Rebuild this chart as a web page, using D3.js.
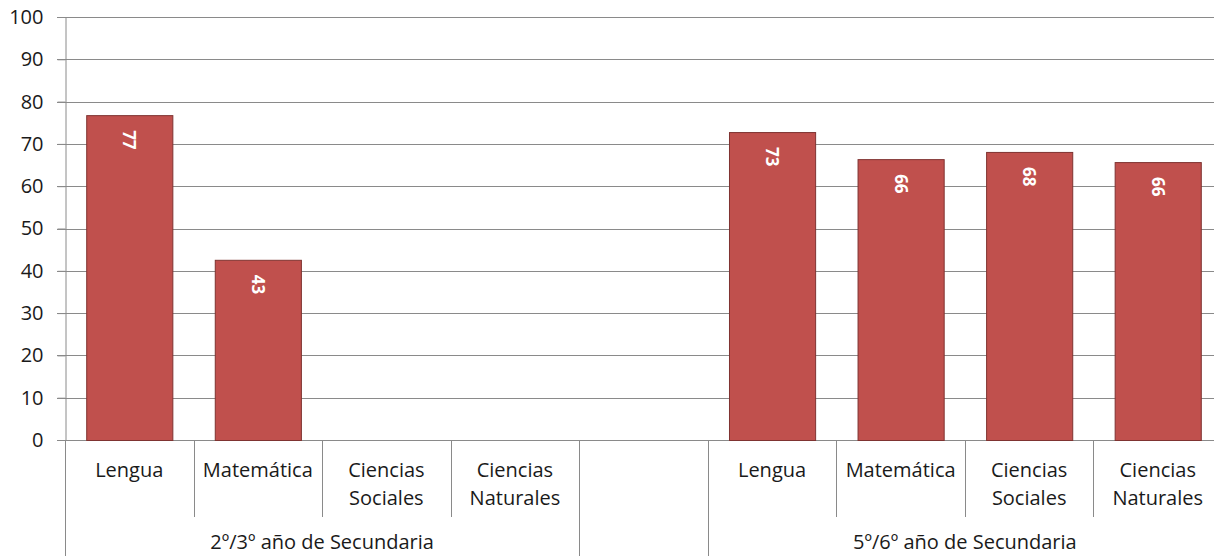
<!DOCTYPE html>
<html><head><meta charset="utf-8">
<script src="https://cdn.jsdelivr.net/npm/d3@7"></script>
<style>body{margin:0;background:#fff;}svg{display:block;font-family:"Open Sans","Noto Sans",sans-serif;}</style>
</head><body><svg id="c" width="1214" height="556"></svg>
<script>
const categoryLabels = ["Lengua","Matemática","Ciencias\nSociales","Ciencias\nNaturales","","Lengua","Matemática","Ciencias\nSociales","Ciencias\nNaturales"];
const groupOf = [0,0,0,0,1,2,2,2,2];
const groupNames = ["2º/3º año de Secundaria","","5º/6º año de Secundaria"];
const values = [76.8, 42.6, null, null, null, 72.8, 66.4, 68.1, 65.7];
const yTicks = [0,10,20,30,40,50,60,70,80,90,100];

(function(){
const svg = d3.select("#c");
const mLeft = 65, mRight = 1222, mTop = 17, mBottom = 440;
const x = d3.scaleBand().domain(d3.range(categoryLabels.length)).range([mLeft, mRight]).padding(0);
const y = d3.scaleLinear().domain([0, 100]).range([mBottom, mTop]);
const gridColor = "#8a8a8a";
const textColor = "#1a1a1a";

// gridlines
svg.append("g").selectAll("line").data(yTicks).join("line")
  .attr("x1", mLeft - 8).attr("x2", mRight)
  .attr("y1", d => Math.round(y(d)) + 0.5).attr("y2", d => Math.round(y(d)) + 0.5)
  .attr("stroke", gridColor).attr("stroke-width", 1);

// y axis
const yAxis = svg.append("g").attr("transform", `translate(${mLeft + 0.5},0)`)
  .call(d3.axisLeft(y).tickValues(yTicks).tickSize(8).tickPadding(14));
yAxis.select(".domain").attr("stroke", gridColor);
yAxis.selectAll(".tick line").attr("stroke", gridColor);
yAxis.selectAll("text").attr("font-size", 20).attr("fill", textColor)
  .attr("font-family", "'Open Sans','Noto Sans',sans-serif");

// bars
const bw = x.bandwidth() * 0.67;
const barData = values.map((v, i) => ({v, i})).filter(d => d.v != null);
svg.append("g").selectAll("rect").data(barData).join("rect")
  .attr("x", d => x(d.i) + (x.bandwidth() - bw) / 2 + 0.5)
  .attr("width", bw)
  .attr("y", d => y(d.v) + 0.5)
  .attr("height", d => y(0) - y(d.v))
  .attr("fill", "#C0504D").attr("stroke", "#7F3331").attr("stroke-width", 1);

// value labels
const fmt = d3.format(".0f");
svg.append("g").selectAll("text").data(barData).join("text")
  .attr("transform", d => `translate(${x(d.i) + x.bandwidth() / 2},${y(d.v) + 15}) rotate(90)`)
  .attr("dy", "0.35em")
  .attr("text-anchor", "start")
  .attr("fill", "#fff").attr("font-weight", "bold").attr("font-size", 17)
  .text(d => fmt(d.v));

// category axis lines
const sepX = d3.range(categoryLabels.length + 1).map(i => i < categoryLabels.length ? x(i) : mRight);
const catG = svg.append("g");
sepX.forEach((sx, i) => {
  const full = i === 0 || i === categoryLabels.length || groupOf[i] !== groupOf[i - 1];
  catG.append("line")
    .attr("x1", Math.round(sx) + 0.5).attr("x2", Math.round(sx) + 0.5)
    .attr("y1", mBottom).attr("y2", full ? 556 : 517)
    .attr("stroke", gridColor);
});

// category labels
categoryLabels.forEach((lab, i) => {
  if (!lab) return;
  const t = catG.append("text").attr("text-anchor", "middle")
    .attr("font-size", 20).attr("fill", textColor);
  lab.split("\n").forEach((ln, k) => {
    t.append("tspan").attr("x", x(i) + x.bandwidth() / 2).attr("y", 477 + k * 28).text(ln);
  });
});

// group labels
groupNames.forEach((g, gi) => {
  if (!g) return;
  const idx = groupOf.map((v, i) => v === gi ? i : -1).filter(i => i >= 0);
  const x0 = x(idx[0]), x1 = x(idx[idx.length - 1]) + x.bandwidth();
  catG.append("text").attr("text-anchor", "middle")
    .attr("x", (x0 + x1) / 2).attr("y", 549)
    .attr("font-size", 20).attr("fill", textColor).text(g);
});
})();
</script></body></html>
